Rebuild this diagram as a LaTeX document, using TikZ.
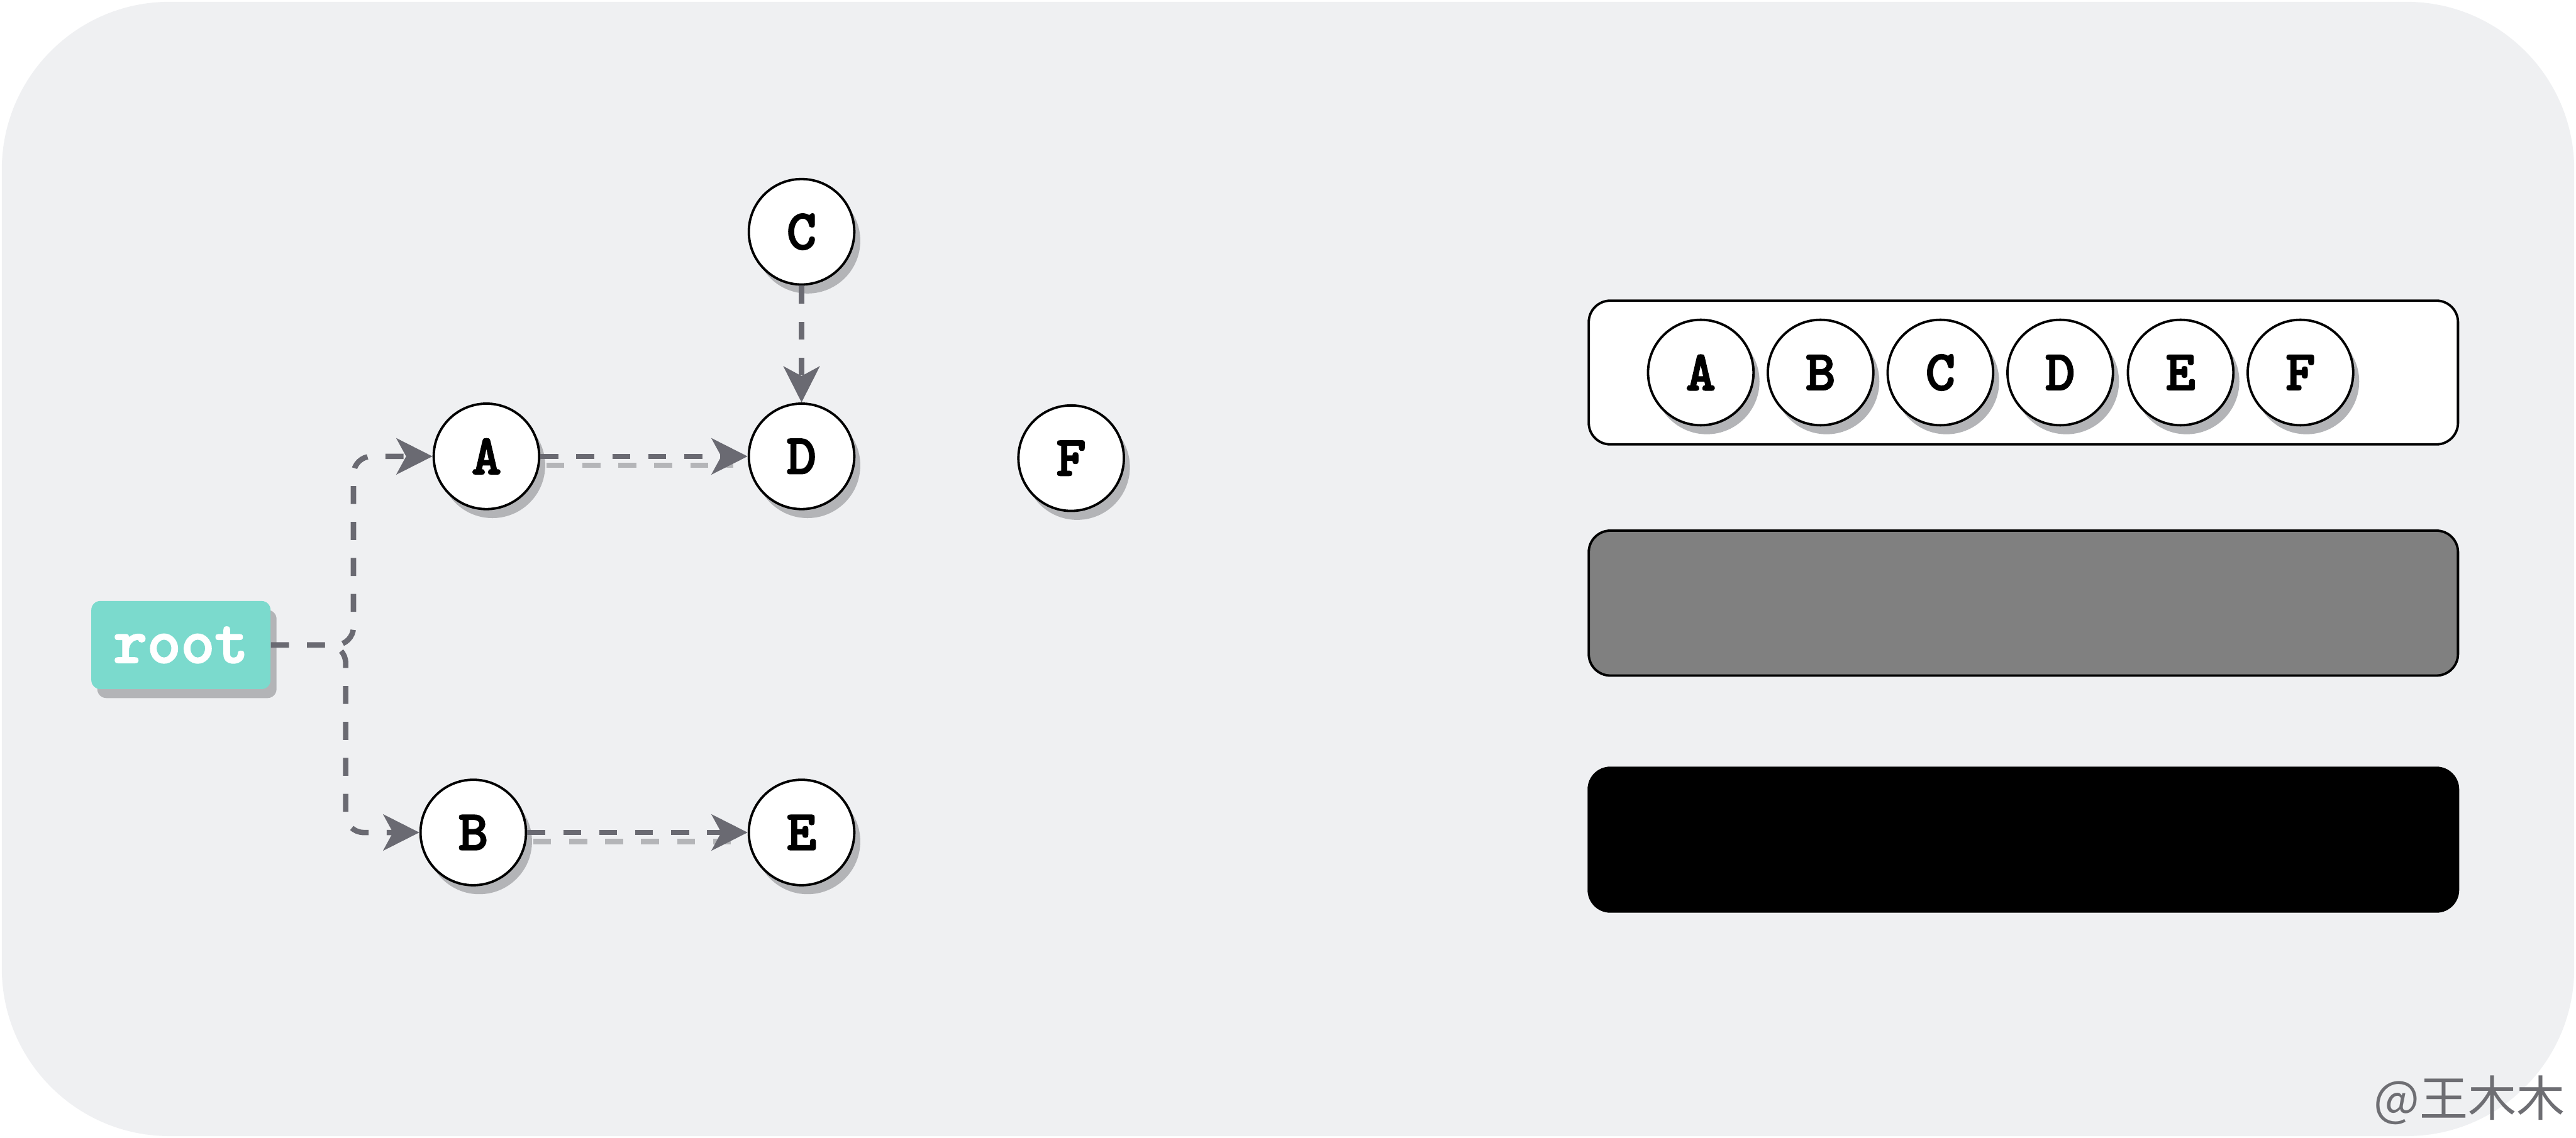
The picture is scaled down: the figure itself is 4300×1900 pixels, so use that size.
\documentclass[tikz,border=0pt]{standalone}
\usepackage{fontspec}
\newfontfamily\cjk{Noto Sans CJK SC}
\newfontfamily\monob{lmmonolt10-bold.otf}[FakeBold=2.2]
\usetikzlibrary{arrows.meta,shadows}
\definecolor{bgc}{HTML}{EFF0F2}
\definecolor{tealc}{HTML}{7BDACD}
\definecolor{shd}{HTML}{B3B4B7}
\definecolor{lnc}{HTML}{6A6A72}
\definecolor{lnl}{HTML}{B4B5B8}
\definecolor{wmc}{HTML}{6E6E73}
\definecolor{midgray}{HTML}{808080}
\begin{document}
\begin{tikzpicture}[x=0.01cm,y=-0.01cm,
  circnode/.style={circle, draw=black, line width=0.04cm, fill=white, minimum size=1.76cm, inner sep=0pt,
    font=\monob\fontsize{27}{32}\selectfont,
    drop shadow={shadow xshift=0.1cm, shadow yshift=-0.15cm, fill=shd, opacity=1}},
  rootbox/.style={rectangle, rounded corners=0.15cm, fill=tealc, minimum width=2.99cm, minimum height=1.47cm, inner sep=0pt,
    text=white, font=\monob\fontsize{30.5}{36}\selectfont,
    drop shadow={shadow xshift=0.1cm, shadow yshift=-0.15cm, fill=shd, opacity=1}},
  lnk/.style={draw=lnc, line width=0.09cm, dash pattern=on 0.3cm off 0.3cm,
    -{Stealth[length=0.6cm,width=0.6cm,inset=0.16cm]}},
  lnkshadow/.style={draw=lnl, line width=0.09cm, dash pattern=on 0.3cm off 0.3cm},
  bar/.style={rounded corners=0.36cm, line width=0.04cm, draw=black}
]
\useasboundingbox (0,0) rectangle (4300,1900);
\fill[bgc, rounded corners=2.8cm] (3,3) rectangle (4297,1897);

% left graph nodes
\node[rootbox] (root) at (302,1077) {root};
\node[circnode] (A) at (812,762) {A};
\node[circnode] (B) at (790,1390) {B};
\node[circnode] (C) at (1338,387) {C};
\node[circnode] (D) at (1338,762) {D};
\node[circnode] (E) at (1338,1390) {E};
\node[circnode] (F) at (1788,765) {F};

\coordinate (ka) at (590,1077);
\coordinate (kb) at (577,1077);

% connectors
\draw[lnk, rounded corners=0.3cm] (root.east) -- (ka) |- (A.west);
\draw[lnk, rounded corners=0.3cm] (root.east) -- (kb) |- (B.west);
\draw[lnkshadow] ([xshift=0.1cm,yshift=-0.15cm]A.east) -- ([xshift=-0.24cm,yshift=-0.15cm]D.west);
\draw[lnk] (A.east) -- (D.west);
\draw[lnkshadow] ([xshift=0.1cm,yshift=-0.15cm]B.east) -- ([xshift=-0.24cm,yshift=-0.15cm]E.west);
\draw[lnk] (B.east) -- (E.west);
\draw[lnk] (C.south) -- (D.north);

% right side bars
\draw[bar, fill=white] (2652,502) rectangle (4103,742);
\draw[bar, fill=midgray] (2652,886) rectangle (4103,1128);
\fill[black, rounded corners=0.38cm] (2650,1280) rectangle (4105,1524);

\node[circnode] (qA) at (2839,622) {A};
\node[circnode] (qB) at (3039,622) {B};
\node[circnode] (qC) at (3239,622) {C};
\node[circnode] (qD) at (3439,622) {D};
\node[circnode] (qE) at (3640,622) {E};
\node[circnode] (qF) at (3840,622) {F};

% watermark
\node[text=wmc, font=\cjk\fontsize{23}{28}\selectfont, inner sep=0pt] (wm) at (4122,1837) {@王木木};
\end{tikzpicture}
\end{document}
